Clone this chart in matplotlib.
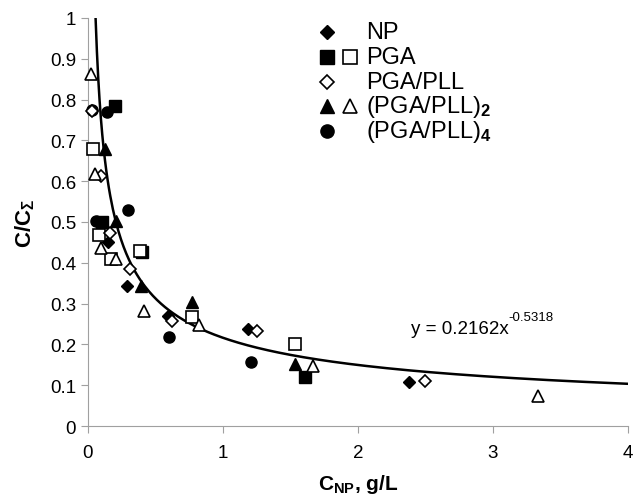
import numpy as np
import matplotlib
matplotlib.use("Agg")
import matplotlib.pyplot as plt

plt.rcParams['font.family'] = ['Liberation Sans', 'DejaVu Sans']
plt.rcParams['mathtext.fontset'] = 'custom'
plt.rcParams['mathtext.rm'] = 'Liberation Sans'
plt.rcParams['mathtext.it'] = 'Liberation Sans:italic'
plt.rcParams['mathtext.bf'] = 'Liberation Sans:bold'

# data
np_x = [0.148, 0.29, 0.59, 1.185, 2.38]
np_y = [0.451, 0.343, 0.27, 0.238, 0.108]

pga_fill_x = [0.2, 0.104, 0.4, 1.61]
pga_fill_y = [0.784, 0.50, 0.426, 0.12]
pga_open_x = [0.04, 0.08, 0.17, 0.385, 0.77, 1.53]
pga_open_y = [0.679, 0.467, 0.41, 0.43, 0.267, 0.2]

pll_x = [0.03, 0.10, 0.165, 0.31, 0.625, 1.25, 2.5]
pll_y = [0.772, 0.613, 0.473, 0.385, 0.257, 0.233, 0.11]

pll2_fill_x = [0.125, 0.21, 0.39, 0.77, 1.53]
pll2_fill_y = [0.679, 0.502, 0.343, 0.304, 0.152]
pll2_open_x = [0.02, 0.05, 0.095, 0.205, 0.415, 0.825, 1.67, 3.33]
pll2_open_y = [0.863, 0.618, 0.436, 0.409, 0.282, 0.248, 0.148, 0.074]

pll4_x = [0.03, 0.14, 0.06, 0.30, 0.60, 1.21]
pll4_y = [0.775, 0.77, 0.502, 0.53, 0.218, 0.157]

fit_a, fit_b = 0.2162, -0.5318
legend_labels = ['NP', 'PGA', 'PGA/PLL', r'(PGA/PLL)$_\mathbf{2}$', r'(PGA/PLL)$_\mathbf{4}$']

fig = plt.figure(figsize=(6.34, 5.02), dpi=100)
ax = fig.add_axes([0.1388, 0.1494, 0.8517, 0.8128])

xs = np.linspace((1 / fit_a) ** (1 / fit_b), 4, 400)
ax.plot(xs, fit_a * xs ** fit_b, color='black', lw=1.8, zorder=2)

k = dict(linestyle='none', clip_on=False, zorder=3, markeredgecolor='black')
ax.plot(pll4_x, pll4_y, marker='o', ms=8, color='black', **k)
ax.plot(np_x, np_y, marker='D', ms=6.2, color='black', **k)
ax.plot(pga_fill_x, pga_fill_y, marker='s', ms=8, color='black', **k)
ax.plot(pga_open_x, pga_open_y, marker='s', ms=8, markerfacecolor='white', mew=1.2, **k)
ax.plot(pll_x, pll_y, marker='D', ms=6.2, markerfacecolor='white', mew=1.2, **k)
ax.plot(pll2_fill_x, pll2_fill_y, marker='^', ms=9, color='black', **k)
ax.plot(pll2_open_x, pll2_open_y, marker='^', ms=9, markerfacecolor='white', mew=1.2, **k)

eq = ax.text(2.39, 0.24, 'y = %.4fx' % fit_a, fontsize=13.5, va='center', ha='left')
ax.annotate('%.4f' % fit_b, xy=(1, 0.78), xycoords=eq, fontsize=9.5, va='bottom', ha='left')

# hand-made legend
tr = ax.transAxes
lk = dict(linestyle='none', clip_on=False, transform=tr, markeredgecolor='black')
rows = [0.966, 0.904, 0.843, 0.784, 0.723]
ax.plot([0.4426], [rows[0]], marker='D', ms=7.5, color='black', **lk)
ax.plot([0.4426], [rows[1]], marker='s', ms=9.5, color='black', **lk)
ax.plot([0.485], [rows[1]], marker='s', ms=9.5, markerfacecolor='white', mew=1.2, **lk)
ax.plot([0.4426], [rows[2]], marker='D', ms=7.5, markerfacecolor='white', mew=1.2, **lk)
ax.plot([0.4426], [rows[3]], marker='^', ms=10.5, color='black', **lk)
ax.plot([0.485], [rows[3]], marker='^', ms=10.5, markerfacecolor='white', mew=1.2, **lk)
ax.plot([0.4426], [rows[4]], marker='o', ms=9.5, color='black', **lk)
for lab, ry in zip(legend_labels, rows):
    ax.text(0.515, ry, lab, transform=tr, fontsize=17, va='center', ha='left')

ax.set_xlim(0, 4)
ax.set_ylim(0, 1)
ax.set_xticks([0, 1, 2, 3, 4])
ax.set_xticklabels(['0', '1', '2', '3', '4'])
ax.set_yticks(np.arange(0, 1.01, 0.1))
ax.set_yticklabels(['0', '0.1', '0.2', '0.3', '0.4', '0.5', '0.6', '0.7', '0.8', '0.9', '1'])
for s in ['top', 'right']:
    ax.spines[s].set_visible(False)
for s in ['left', 'bottom']:
    ax.spines[s].set_color('#a0a0a0')
ax.tick_params(colors='#a0a0a0', labelcolor='black', labelsize=13.5, length=5, direction='out')
ax.tick_params(axis='x', pad=8)

ax.set_xlabel(r'$\mathbf{C_{NP}}$, g/L', fontsize=15, fontweight='bold', labelpad=8)
ax.set_ylabel(r'$\mathbf{C/C_{\Sigma}}$', fontsize=16, fontweight='bold', labelpad=9)

fig.savefig('out.png', dpi=100)
